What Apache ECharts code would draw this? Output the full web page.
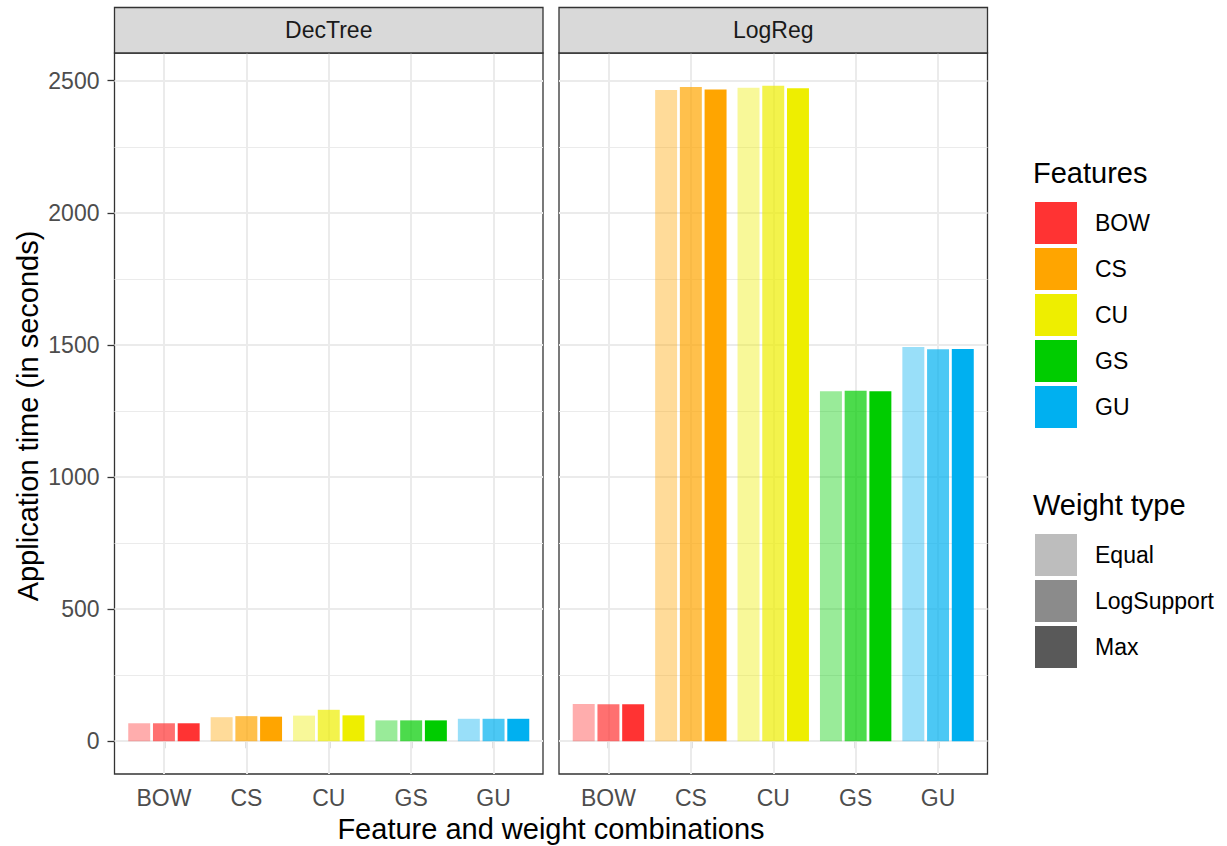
<!DOCTYPE html>
<html>
<head>
<meta charset="utf-8">
<script src="https://cdn.jsdelivr.net/npm/echarts@6/dist/echarts.min.js"></script>
<style>
html,body{margin:0;padding:0;background:#fff;}
#chart{width:1227px;height:846px;}
</style>
</head>
<body>
<div id="chart"></div>
<script>
// ---- data ----
const categories = ['BOW', 'CS', 'CU', 'GS', 'GU'];
const weightTypes = ['Equal', 'LogSupport', 'Max'];
const panels = ['DecTree', 'LogReg'];
const decTreeEqual      = [68, 91, 97, 79, 85];
const decTreeLogSupport = [68, 95, 119, 79, 85];
const decTreeMax        = [68, 93, 98, 79, 85];
const logRegEqual       = [141, 2465, 2473, 1325, 1492];
const logRegLogSupport  = [140, 2476, 2481, 1327, 1484];
const logRegMax         = [140, 2467, 2472, 1325, 1485];
const yTicks = [0, 500, 1000, 1500, 2000, 2500];
const yMinorTicks = [250, 750, 1250, 1750, 2250];

// ---- style ----
const featureColors = ['#FF3333', '#FFA500', '#EEEE00', '#00CC00', '#00B0F0'];
const weightAlpha = [0.4, 0.7, 1.0];
const weightGreys = ['#BDBDBD', '#8B8B8B', '#595959'];
const FONT = '"Liberation Sans", Arial, sans-serif';
const SMALL = 23, BIG = 29;
const DODGE = 0.3, HALF = 0.1333;

const panelValues = [
  [decTreeEqual, decTreeLogSupport, decTreeMax],
  [logRegEqual, logRegLogSupport, logRegMax]
];

const gridLeft = [114.5, 559];
const gridTop = 53, gridW = 428.5, gridH = 721;

function buildData(sets) {
  const out = [];
  categories.forEach((c, i) => {
    sets.forEach((arr, w) => {
      out.push([i + 1, arr[i], w, i]);
    });
  });
  return out;
}

function renderItem(params, api) {
  const x = api.value(0), v = api.value(1), w = api.value(2), f = api.value(3);
  const c = x + (w - 1) * DODGE;
  const p0 = api.coord([c - HALF, v]);
  const p1 = api.coord([c + HALF, 0]);
  return {
    type: 'rect',
    shape: { x: p0[0], y: p0[1], width: p1[0] - p0[0], height: p1[1] - p0[1] },
    style: { fill: featureColors[f], opacity: weightAlpha[w] }
  };
}

const gridLineData = [];
yTicks.forEach(v => gridLineData.push({ yAxis: v, lineStyle: { color: '#EBEBEB', width: 2, type: 'solid' } }));
yMinorTicks.forEach(v => gridLineData.push({ yAxis: v, lineStyle: { color: '#EBEBEB', width: 1.1, type: 'solid' } }));
categories.forEach((c, i) => gridLineData.push({ xAxis: i + 1, lineStyle: { color: '#EBEBEB', width: 2, type: 'solid' } }));

const grids = [], xAxes = [], yAxes = [], series = [], graphics = [];
panels.forEach((p, k) => {
  grids.push({
    left: gridLeft[k], top: gridTop, width: gridW, height: gridH,
    show: true, backgroundColor: '#fff', borderColor: '#333333', borderWidth: 1.3, z: 0
  });
  xAxes.push({
    gridIndex: k, type: 'value', min: 0.4, max: 5.6,
    axisLine: { show: false },
    splitLine: { show: false },
    axisTick: { show: true, customValues: [1, 2, 3, 4, 5], length: 7, lineStyle: { color: '#333333', width: 1.3 } },
    axisLabel: {
      customValues: [1, 2, 3, 4, 5], margin: 12,
      formatter: v => categories[Math.round(v) - 1],
      color: '#4D4D4D', fontSize: SMALL, fontFamily: FONT
    }
  });
  yAxes.push({
    gridIndex: k, type: 'value', min: -124, max: 2605,
    axisLine: { show: false },
    splitLine: { show: false },
    axisTick: { show: k === 0, customValues: yTicks, length: 7, lineStyle: { color: '#333333', width: 1.3 } },
    axisLabel: {
      show: k === 0, customValues: yTicks, margin: 15,
      formatter: v => String(Math.round(v)),
      color: '#4D4D4D', fontSize: SMALL, fontFamily: FONT
    }
  });
  series.push({
    type: 'custom', name: p, xAxisIndex: k, yAxisIndex: k, z: 2,
    renderItem: renderItem,
    encode: { x: 0, y: 1 },
    data: buildData(panelValues[k]),
    markLine: {
      silent: true, z: 1, symbol: ['none', 'none'], label: { show: false },
      animation: false, data: gridLineData
    }
  });
  // strip
  graphics.push({
    type: 'rect', z: 10,
    shape: { x: gridLeft[k], y: 7.5, width: gridW, height: gridTop - 7.5 },
    style: { fill: '#D9D9D9', stroke: '#333333', lineWidth: 1.3 }
  });
  graphics.push({
    type: 'text', z: 11, x: gridLeft[k] + gridW / 2, y: (7.5 + gridTop) / 2,
    style: { text: p, fill: '#1A1A1A', font: SMALL + 'px ' + FONT, align: 'center', verticalAlign: 'middle', textAlign: 'center', textVerticalAlign: 'middle' }
  });
});

// axis titles
graphics.push({
  type: 'text', z: 11, x: (gridLeft[0] + gridLeft[1] + gridW) / 2, y: 829,
  style: { text: 'Feature and weight combinations', fill: '#000', font: BIG + 'px ' + FONT, align: 'center', verticalAlign: 'middle', textAlign: 'center', textVerticalAlign: 'middle' }
});
graphics.push({
  type: 'text', z: 11, x: 28, y: 416, rotation: Math.PI / 2,
  style: { text: 'Application time (in seconds)', fill: '#000', font: BIG + 'px ' + FONT, align: 'center', verticalAlign: 'middle', textAlign: 'center', textVerticalAlign: 'middle' }
});

// legends
const LX = 1035, KEY = 42, STEP = 46;
graphics.push({
  type: 'text', z: 11, x: 1033, y: 173,
  style: { text: 'Features', fill: '#000', font: BIG + 'px ' + FONT, align: 'left', verticalAlign: 'middle', textAlign: 'left', textVerticalAlign: 'middle' }
});
categories.forEach((c, i) => {
  const y0 = 202 + i * STEP;
  graphics.push({ type: 'rect', z: 11, shape: { x: LX, y: y0, width: KEY, height: KEY }, style: { fill: featureColors[i] } });
  graphics.push({
    type: 'text', z: 11, x: 1095, y: y0 + KEY / 2,
    style: { text: c, fill: '#000', font: SMALL + 'px ' + FONT, align: 'left', verticalAlign: 'middle', textAlign: 'left', textVerticalAlign: 'middle' }
  });
});
graphics.push({
  type: 'text', z: 11, x: 1033, y: 505,
  style: { text: 'Weight type', fill: '#000', font: BIG + 'px ' + FONT, align: 'left', verticalAlign: 'middle', textAlign: 'left', textVerticalAlign: 'middle' }
});
weightTypes.forEach((w, i) => {
  const y0 = 534 + i * STEP;
  graphics.push({ type: 'rect', z: 11, shape: { x: LX, y: y0, width: KEY, height: KEY }, style: { fill: weightGreys[i] } });
  graphics.push({
    type: 'text', z: 11, x: 1095, y: y0 + KEY / 2,
    style: { text: w, fill: '#000', font: SMALL + 'px ' + FONT, align: 'left', verticalAlign: 'middle', textAlign: 'left', textVerticalAlign: 'middle' }
  });
});

const chart = echarts.init(document.getElementById('chart'), null, { renderer: 'svg' });
chart.setOption({
  animation: false,
  backgroundColor: '#fff',
  textStyle: { fontFamily: FONT },
  grid: grids,
  xAxis: xAxes,
  yAxis: yAxes,
  series: series,
  graphic: { elements: graphics }
});
</script>
</body>
</html>
